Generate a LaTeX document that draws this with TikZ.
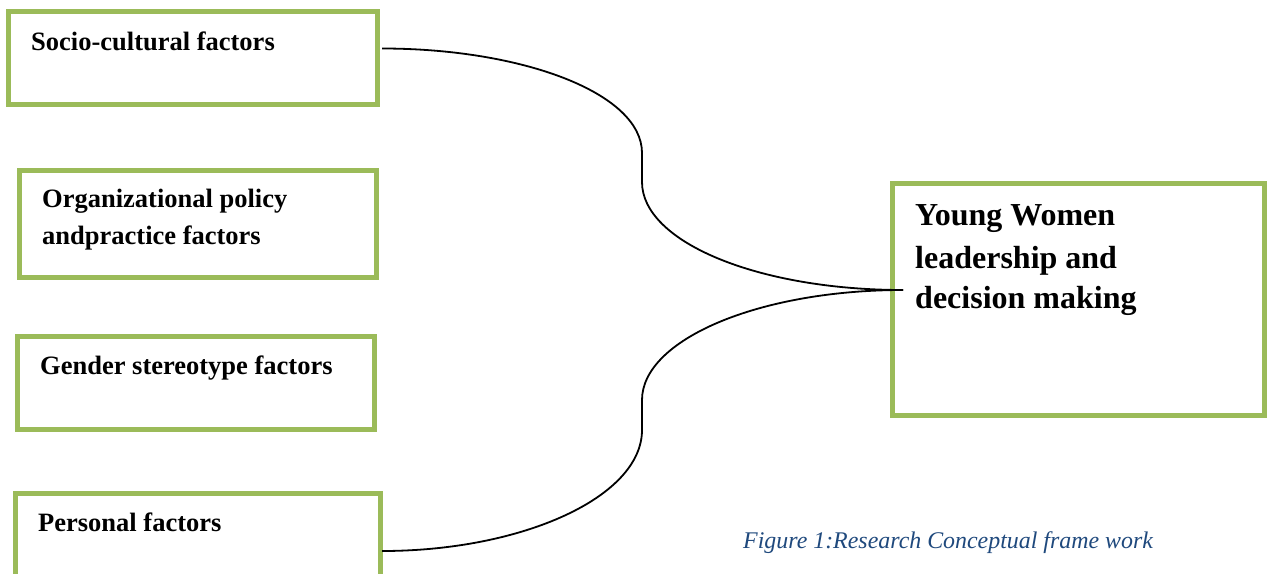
\documentclass[tikz,border=0pt]{standalone}
\usepackage{fontspec}
\setmainfont{Liberation Serif}
\definecolor{boxgreen}{HTML}{9BBB59}
\definecolor{capblue}{HTML}{1F497D}
\begin{document}
\begin{tikzpicture}[x=1pt,y=-1pt,
  box/.style={draw=boxgreen, line width=5pt, rectangle, inner sep=0pt, outer sep=0pt, fill=white},
  lbl/.style={anchor=base west, inner sep=0pt, font=\fontsize{26.5}{30}\selectfont\bfseries},
  biglbl/.style={anchor=base west, inner sep=0pt, font=\fontsize{32}{36}\selectfont\bfseries},
  caption/.style={anchor=base west, inner sep=0pt, text=capblue, font=\fontsize{23.9}{28}\selectfont\itshape},
  conn/.style={draw=black, line width=1.8pt}]
\useasboundingbox (0,0) rectangle (1268,573);
\clip (0,0) rectangle (1268,573);
\fill[white] (0,0) rectangle (1268,573);

% boxes
\node[box, minimum width=369pt, minimum height=93pt] (b1) at (193,58) {};
\node[box, minimum width=357pt, minimum height=107pt] (b2) at (198,224) {};
\node[box, minimum width=357pt, minimum height=93pt] (b3) at (196,383) {};
\node[box, minimum width=365pt, minimum height=93pt] (b4) at (198,540) {};
\node[box, minimum width=372pt, minimum height=232pt] (b5) at (1078.5,299.5) {};

% labels
\node[lbl] (t1) at (31,50) {Socio-cultural factors};
\node[lbl] (t2a) at (42,207.7) {Organizational policy};
\node[lbl] (t2b) at (42,244) {andpractice factors};
\node[lbl] (t3) at (40,374) {Gender stereotype factors};
\node[lbl] (t4) at (38,531.7) {Personal factors};
\node[biglbl] (t5a) at (915,225) {Young Women};
\node[biglbl] (t5b) at (915,268.3) {leadership and};
\node[biglbl] (t5c) at (915,308.3) {decision making};
\node[caption] (cap) at (743,548) {Figure 1:Research Conceptual frame work};

% connector end points
\coordinate (s1) at ([shift={(4.5pt,9.5pt)}]b1.east);
\coordinate (s4) at ([xshift=1.5pt]b4.east |- 0,551);
\coordinate (j) at ([shift={(10.5pt,9.5pt)}]b5.west);
\coordinate (m1) at (642,153);
\coordinate (m2) at (642,182);
\coordinate (m3) at (642,400);
\coordinate (m4) at (642,430);

% brace-like connectors
\draw[conn] (s1) .. controls +(140,0) and +(0,-60) .. (m1) -- (m2)
  .. controls +(0,60) and +(-145,0) .. (j);
\draw[conn] (s4) .. controls +(140,0) and +(0,67) .. (m4) -- (m3)
  .. controls +(0,-60) and +(-145,0) .. (j);
\end{tikzpicture}
\end{document}
